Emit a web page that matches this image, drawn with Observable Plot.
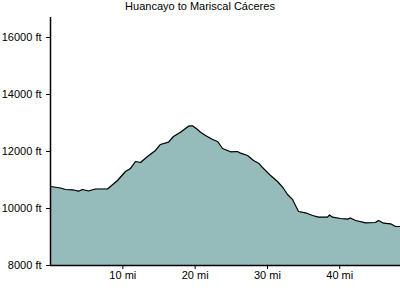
<!DOCTYPE html>
<html>
<head>
<meta charset="utf-8">
<script src="https://cdn.jsdelivr.net/npm/d3@7"></script>
<script src="https://cdn.jsdelivr.net/npm/@observablehq/plot@0.6"></script>
<style>
  html, body { margin: 0; padding: 0; background: white; }
  #title { width: 400px; height: 14px; line-height: 14px; text-align: center;
           font: 11px "Liberation Sans", Arial, sans-serif; color: black; }
  #chart svg { display: block; }
</style>
</head>
<body>
<div id="title">Huancayo to Mariscal Cáceres</div>
<div id="chart"></div>
<script>
const title = "Huancayo to Mariscal Cáceres";
const miles = [0, 1.38, 2.07, 3.04, 3.87, 4.43, 5.26, 6.22, 7.88, 8.30, 9.27, 10.37, 11.07, 11.76, 12.45, 13.42, 14.52, 15.21, 16.32, 17.01, 17.98, 19.09, 19.64, 20.33, 20.75, 21.44, 22.41, 23.10, 23.79, 24.90, 25.86, 26.28, 27.25, 28.08, 28.77, 29.32, 30.43, 31.40, 32.23, 32.78, 33.47, 34.02, 34.30, 35.27, 36.24, 37.07, 38.31, 38.59, 39.00, 40.11, 41.08, 41.49, 42.19, 43.57, 44.95, 45.37, 46.06, 47.03, 47.72, 48.4];
const feet = [10772, 10719, 10667, 10656, 10607, 10667, 10614, 10684, 10684, 10772, 10982, 11298, 11404, 11649, 11614, 11825, 12035, 12246, 12326, 12526, 12677, 12888, 12902, 12772, 12677, 12561, 12421, 12351, 12105, 11989, 12000, 11940, 11860, 11684, 11589, 11439, 11158, 10947, 10702, 10491, 10316, 10035, 9895, 9849, 9754, 9695, 9695, 9772, 9695, 9649, 9625, 9667, 9579, 9498, 9509, 9579, 9484, 9463, 9368, 9368];
const yTicks = [8000, 10000, 12000, 14000, 16000];
const xTicks = [10, 20, 30, 40];

const data = miles.map((m, i) => ({mi: m, ft: feet[i]}));

const chart = Plot.plot({
  width: 400,
  height: 286,
  marginTop: 3,
  marginBottom: 35,
  marginLeft: 50,
  marginRight: 0,
  style: {fontFamily: '"Liberation Sans", Arial, sans-serif', fontSize: "11px", color: "black", background: "white"},
  x: {domain: [0, 48.4], ticks: xTicks, tickFormat: d => d + " mi", tickSize: 4, tickPadding: 2, label: null},
  y: {domain: [8000, 16700], ticks: yTicks, tickFormat: d => d + " ft", tickSize: 4, tickPadding: 5, label: null},
  marks: [
    Plot.areaY(data, {x: "mi", y1: 8000, y2: "ft", fill: "#96bbbb"}),
    Plot.lineY(data, {x: "mi", y: "ft", stroke: "black", strokeWidth: 1.2}),
    Plot.ruleX([0], {stroke: "black", strokeWidth: 1.5}),
    Plot.ruleY([8000], {stroke: "black", strokeWidth: 1.5})
  ]
});
document.getElementById("chart").appendChild(chart);
</script>
</body>
</html>
